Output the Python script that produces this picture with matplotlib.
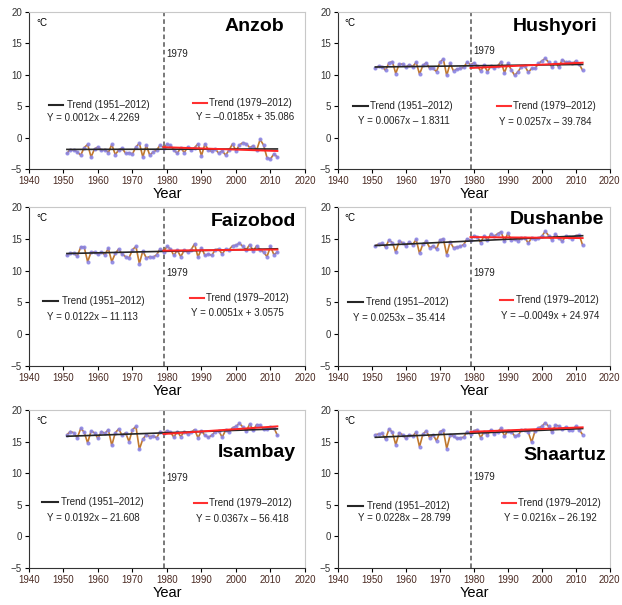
import matplotlib as mpl
import matplotlib.pyplot as plt
import numpy as np

mpl.rcParams['font.family'] = ['Liberation Sans', 'DejaVu Sans']

years = np.arange(1951, 2013)

stations = ['Anzob', 'Hushyori', 'Faizobod', 'Dushanbe', 'Isambay', 'Shaartuz']

anzob = [-2.5, -1.9, -2.0, -2.3, -2.8, -1.6, -1.1, -3.1, -1.8, -1.5,
         -2.0, -1.9, -2.4, -1.1, -2.7, -2.0, -1.7, -2.5, -2.4, -2.6,
         -1.5, -0.9, -3.1, -1.2, -2.8, -2.3, -2.0, -1.2, -1.6, -1.1,
         -1.2, -2.0, -2.5, -1.6, -2.4, -1.5, -2.0, -1.6, -1.0, -2.9,
         -1.0, -2.0, -2.2, -1.8, -2.5, -2.1, -2.8, -2.0, -1.0, -2.1,
         -1.2, -0.8, -1.0, -1.6, -1.3, -2.0, -0.3, -1.2, -3.2, -3.4,
         -2.6, -3.1]
hushyori = [11.0, 11.4, 11.3, 10.7, 11.9, 12.1, 10.2, 11.7, 11.7, 11.2,
            11.6, 11.3, 12.0, 10.1, 11.5, 11.9, 11.0, 11.0, 10.5, 12.0,
            12.5, 9.9, 11.8, 10.6, 10.9, 11.0, 11.2, 12.0, 11.6, 11.9,
            11.4, 10.6, 11.5, 10.5, 11.4, 11.0, 11.4, 12.1, 10.3, 11.8,
            10.8, 9.9, 10.5, 11.3, 11.4, 10.4, 11.0, 11.0, 11.8, 12.2,
            12.6, 12.0, 11.2, 12.0, 11.2, 12.4, 12.0, 12.1, 11.8, 12.2,
            11.7, 10.7]
faizobod = [12.4, 12.8, 12.7, 12.3, 13.7, 13.7, 11.4, 12.9, 12.9, 12.6,
            12.9, 12.5, 13.5, 11.4, 12.7, 13.4, 12.6, 12.2, 12.0, 13.3,
            13.8, 11.1, 13.1, 12.0, 12.2, 12.1, 12.5, 13.4, 13.0, 13.8,
            13.4, 12.4, 13.2, 12.2, 13.2, 12.9, 13.3, 14.2, 12.1, 13.6,
            12.4, 12.6, 12.4, 13.3, 13.4, 12.6, 13.4, 13.3, 13.9, 14.0,
            14.3, 13.8, 13.3, 14.1, 13.1, 13.9, 13.3, 12.9, 12.2, 13.8,
            12.5, 12.9]
dushanbe = [13.9, 14.2, 14.3, 13.7, 14.8, 14.4, 12.9, 14.6, 14.4, 13.9,
            14.5, 14.1, 14.9, 12.7, 14.2, 14.6, 13.6, 13.9, 13.4, 14.8,
            15.0, 12.5, 14.5, 13.6, 13.7, 13.8, 14.1, 15.0, 14.8, 15.5,
            15.3, 14.4, 15.5, 14.8, 15.8, 15.4, 15.8, 16.1, 14.6, 15.9,
            14.8, 14.9, 14.7, 15.1, 15.2, 14.3, 15.2, 14.9, 15.1, 15.4,
            16.2, 15.5, 14.8, 15.7, 15.2, 14.6, 15.4, 15.3, 15.0, 15.5,
            15.6, 14.0]
isambay = [16.1, 16.6, 16.4, 15.6, 17.1, 16.5, 14.8, 16.7, 16.4, 15.5,
           16.6, 16.3, 16.9, 14.4, 16.4, 17.0, 16.0, 16.4, 15.0, 16.9,
           17.4, 13.8, 15.4, 16.1, 15.8, 15.9, 15.6, 16.6, 16.4, 16.7,
           16.5, 15.7, 16.6, 15.8, 16.6, 16.2, 16.5, 16.9, 15.6, 16.7,
           16.0, 15.7, 16.0, 16.6, 16.7, 15.7, 16.8, 16.5, 17.2, 17.4,
           17.9, 17.3, 16.7, 17.8, 16.8, 17.7, 17.6, 17.0, 17.0, 17.3,
           17.2, 16.0]
shaartuz = [16.1, 16.2, 16.3, 15.4, 17.0, 16.5, 14.5, 16.4, 16.1, 15.5,
            16.1, 15.9, 16.5, 14.2, 16.2, 16.7, 15.6, 16.1, 15.1, 16.6,
            16.8, 13.9, 16.0, 15.9, 15.5, 15.6, 15.7, 16.6, 16.2, 16.7,
            16.9, 15.6, 16.6, 16.1, 16.9, 16.2, 16.6, 17.1, 15.9, 16.7,
            16.6, 15.9, 16.0, 16.8, 16.9, 16.5, 14.9, 16.7, 17.2, 17.4,
            18.0, 17.4, 16.5, 17.6, 17.5, 17.0, 17.3, 16.8, 16.9, 17.4,
            16.9, 16.1]
series = [anzob, hushyori, faizobod, dushanbe, isambay, shaartuz]

# trend coefficients (slope, intercept)
trend_all = [(0.0012, -4.2269), (0.0067, -1.8311), (0.0122, -11.113),
             (0.0253, -35.414), (0.0192, -21.608), (0.0228, -28.799)]
trend_late = [(-0.0185, 35.086), (0.0257, -39.784), (0.0051, 3.0575),
              (-0.0049, 24.974), (0.0367, -56.418), (0.0216, -26.192)]
eq_all = ['Y = 0.0012x \u2013 4.2269', 'Y = 0.0067x \u2013 1.8311',
          'Y = 0.0122x \u2013 11.113', 'Y = 0.0253x \u2013 35.414',
          'Y = 0.0192x \u2013 21.608', 'Y = 0.0228x \u2013 28.799']
eq_late = ['Y = \u20130.0185x + 35.086', 'Y = 0.0257x \u2013 39.784',
           'Y = 0.0051x + 3.0575', 'Y = \u20130.0049x + 24.974',
           'Y = 0.0367x \u2013 56.418', 'Y = 0.0216x \u2013 26.192']

# layout: axes rectangles, title spot, 1979 label height, legend spots
rects = [[0.0466, 0.7207, 0.4437, 0.2595], [0.5434, 0.7207, 0.437, 0.2595],
         [0.0466, 0.395, 0.4437, 0.2628], [0.5434, 0.395, 0.437, 0.2628],
         [0.0466, 0.0612, 0.4437, 0.261], [0.5434, 0.0612, 0.437, 0.261]]
title_pos = [(0.925, 0.91), (0.955, 0.91), (0.967, 0.91),
             (0.98, 0.92), (0.967, 0.73), (0.985, 0.715)]
lab1979_y = [13.3, 13.8, 9.6, 9.6, 9.2, 9.4]
# (seg x0, seg x1, text x, y, eq x, eq y)
leg_all = [(1945.8, 1949.8, 1951.0, 5.2, 1945.2, 3.1),
           (1944.4, 1948.7, 1949.3, 5.0, 1945.8, 2.6),
           (1944.0, 1948.4, 1949.5, 5.2, 1945.2, 2.7),
           (1942.9, 1947.3, 1948.1, 5.1, 1944.4, 2.5),
           (1943.9, 1948.4, 1949.2, 5.4, 1945.2, 2.9),
           (1942.9, 1947.3, 1948.4, 4.8, 1945.8, 2.9)]
leg_late = [(1987.6, 1991.7, 1992.3, 5.5, 1988.3, 3.3),
            (1986.8, 1990.9, 1991.5, 5.0, 1987.4, 2.5),
            (1986.8, 1990.6, 1991.4, 5.7, 1987.1, 3.3),
            (1987.7, 1991.5, 1992.3, 5.4, 1988.0, 2.8),
            (1987.7, 1991.7, 1992.3, 5.3, 1988.3, 2.8),
            (1988.3, 1992.3, 1992.9, 5.3, 1988.8, 2.9)]

fig = plt.figure(figsize=(6.22, 6.05), dpi=100)

for i in range(len(stations)):
    ax = fig.add_axes(rects[i])
    y = series[i]
    ax.plot(years, y, color='#c0782e', linewidth=1.2, zorder=3)
    ax.plot(years, y, linestyle='none', marker='o', markersize=2.0,
            markerfacecolor='#8a84e6', markeredgecolor='#8a84e6', alpha=0.8, zorder=4)

    a, b = trend_all[i]
    xa = np.array([1951, 2012])
    ax.plot(xa, a * xa + b, color='#262626', linewidth=1.2, zorder=5)
    a, b = trend_late[i]
    xl = np.array([1979, 2012])
    ax.plot(xl, a * xl + b, color='#ff2424', linewidth=1.4, zorder=6)

    ax.axvline(1979, color='#555555', linestyle=(0, (3, 2)), linewidth=1.1, zorder=2)
    ax.text(1979.8, lab1979_y[i], '1979', fontsize=7, color='#222222', va='center')

    s0, s1, tx, ty, ex, ey = leg_all[i]
    ax.plot([s0, s1], [ty, ty], color='#262626', linewidth=1.5)
    ax.text(tx, ty, 'Trend (1951\u20132012)', fontsize=7, va='center', color='#222222')
    ax.text(ex, ey, eq_all[i], fontsize=7, va='center', color='#222222')
    s0, s1, tx, ty, ex, ey = leg_late[i]
    ax.plot([s0, s1], [ty, ty], color='#ff3030', linewidth=1.5)
    ax.text(tx, ty, 'Trend (1979\u20132012)', fontsize=7, va='center', color='#222222')
    ax.text(ex, ey, eq_late[i], fontsize=7, va='center', color='#222222')

    ax.text(title_pos[i][0], title_pos[i][1], stations[i], transform=ax.transAxes,
            fontsize=14, fontweight='bold', ha='right', va='center')
    ax.text(0.025, 0.93, '\u00b0C', transform=ax.transAxes, fontsize=7, va='center')

    ax.set_xlim(1940, 2020)
    ax.set_ylim(-5, 20)
    ax.set_xticks(range(1940, 2021, 10))
    ax.set_yticks(range(-5, 21, 5))
    ax.tick_params(axis='both', labelsize=7, length=3, width=0.8, pad=2)
    ax.tick_params(axis='x', labelcolor='#4a2a22')
    ax.tick_params(axis='y', labelcolor='#333333')
    for side in ['left', 'bottom']:
        ax.spines[side].set_color('#333333')
        ax.spines[side].set_linewidth(0.8)
    for side in ['top', 'right']:
        ax.spines[side].set_color('#c8c8c8')
        ax.spines[side].set_linewidth(0.8)
    ax.set_xlabel('Year', fontsize=10.5, labelpad=1)

fig.savefig('out.png', dpi=100)
